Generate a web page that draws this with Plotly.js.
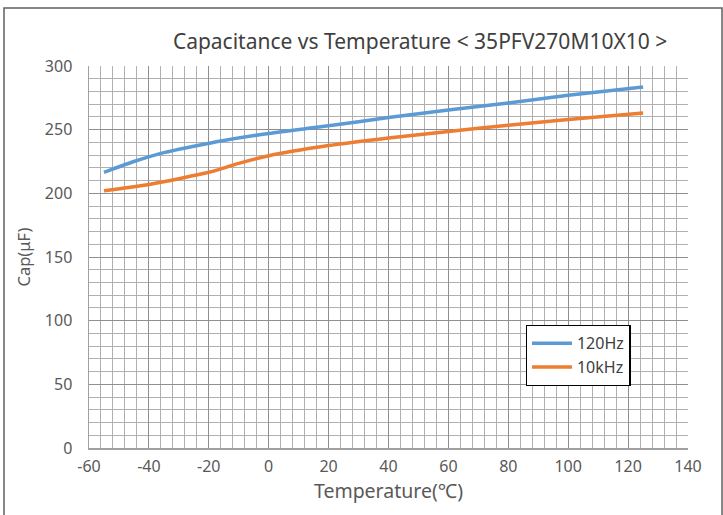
<!DOCTYPE html>
<html>
<head>
<meta charset="utf-8">
<script src="https://cdn.plot.ly/plotly-3.0.1.min.js"></script>
<style>html,body{margin:0;padding:0;background:#fff;}#chart{width:723px;height:515px;}</style>
</head>
<body>
<div id="chart"></div>
<script>
var temps120 = [-55, -45, -35, -25, -15, 0, 20, 40, 60, 80, 100, 125];
var cap120 = [216.5, 225, 232, 237, 241.5, 247, 253, 259.5, 265.5, 271, 277, 283.5];
var temps10k = [-55, -40, -30, -20, -10, 0, 20, 40, 60, 80, 100, 125];
var cap10k = [202, 207, 211.5, 216.5, 223.5, 229.5, 237.5, 243.5, 248.5, 253.5, 258, 263];
var seriesNames = ['120Hz', '10kHz'];
var xTickVals = [-60, -40, -20, 0, 20, 40, 60, 80, 100, 120, 140];
var yTickVals = [0, 50, 100, 150, 200, 250, 300];

var font = '"Noto Sans", "Open Sans", sans-serif';
var traces = [
  {x: temps120, y: cap120, name: seriesNames[0], mode: 'lines',
   line: {color: '#5B9BD5', width: 3.5, shape: 'spline', smoothing: 0.8}},
  {x: temps10k, y: cap10k, name: seriesNames[1], mode: 'lines',
   line: {color: '#ED7D31', width: 3.5, shape: 'spline', smoothing: 0.8}}
];
var layout = {
  width: 723, height: 515,
  margin: {l: 89, r: 35, t: 66, b: 67},
  paper_bgcolor: '#fff', plot_bgcolor: '#fff',
  font: {family: font, color: '#595959', size: 16},
  title: {text: 'Capacitance vs Temperature < 35PFV270M10X10 >', x: 0.581, xanchor: 'center',
          y: 0.92, yanchor: 'middle', font: {size: 21, color: '#404040', family: font}},
  xaxis: {range: [-60, 140], tickvals: xTickVals, ticktext: xTickVals.map(String),
          showgrid: true, gridcolor: '#8f8f8f', gridwidth: 1, zeroline: false,
          showline: true, linecolor: '#a0a0a0', linewidth: 1.5, mirror: false,
          minor: {dtick: 4, showgrid: true, gridcolor: '#b0b0b0', gridwidth: 1},
          ticks: '', ticklabelstandoff: 3, tickfont: {size: 16},
          title: {text: 'Temperature(℃)', font: {size: 19.5, color: '#595959'}, standoff: 5}},
  yaxis: {range: [0, 300], tickvals: yTickVals, ticktext: yTickVals.map(String),
          showgrid: true, gridcolor: '#8f8f8f', gridwidth: 1, zeroline: false,
          showline: true, linecolor: '#a0a0a0', linewidth: 1.5,
          minor: {dtick: 10, showgrid: true, gridcolor: '#b0b0b0', gridwidth: 1},
          ticks: '', ticklabelstandoff: 12, tickfont: {size: 16},
          title: {text: 'Cap(μF)', font: {size: 16.5, color: '#595959'}, standoff: 10}},
  legend: {x: 0.729, y: 0.322, xanchor: 'left', yanchor: 'top', bgcolor: '#fff',
           bordercolor: '#000', borderwidth: 1.3, font: {size: 16, color: '#404040'},
           tracegroupgap: 4, itemwidth: 40, entrywidth: 104},
  showlegend: true,
  shapes: [
    {type: 'rect', xref: 'paper', yref: 'paper', x0: -0.1419, x1: 1.0568, y0: -0.2, y1: 1.1518,
     line: {color: '#606060', width: 1.5}, fillcolor: 'rgba(0,0,0,0)', layer: 'below'}
  ]
};
Plotly.newPlot('chart', traces, layout, {displayModeBar: false, staticPlot: true});
</script>
</body>
</html>
